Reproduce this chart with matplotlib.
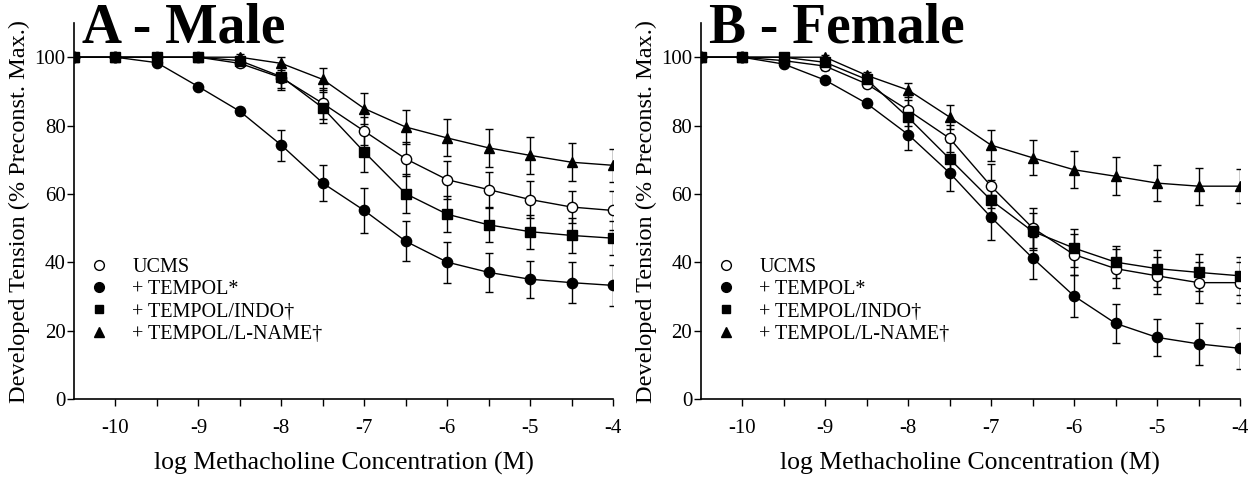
import matplotlib
matplotlib.use("Agg")
import matplotlib.pyplot as plt
from matplotlib.lines import Line2D

plt.rcParams['font.family'] = ['Liberation Serif', 'DejaVu Serif']
plt.rcParams['axes.unicode_minus'] = False

log_conc = [-10.5, -10, -9.5, -9, -8.5, -8, -7.5, -7, -6.5, -6, -5.5, -5, -4.5, -4]
x_ticks = [-10, -9, -8, -7, -6, -5, -4]
y_ticks = [0, 20, 40, 60, 80, 100]

series_labels = ["UCMS", "+ TEMPOL*", "+ TEMPOL/INDO\u2020", "+ TEMPOL/L-NAME\u2020"]

# Male
ucms_m = [100, 100, 100, 100, 98.2, 94, 86.5, 78.4, 70.3, 64.2, 61.3, 58.4, 56.2, 55.2]
ucms_m_err = [0, 0, 0, 0, 1, 3, 4.5, 4, 5, 5.6, 5.2, 5.4, 4.6, 5.6]
tempol_m = [100, 100, 98.4, 91.4, 84.2, 74.3, 63.2, 55.2, 46.2, 40.1, 37.1, 35.1, 34.1, 33.3]
tempol_m_err = [0, 0, 0.5, 0.7, 1, 4.5, 5.2, 6.5, 5.8, 6, 5.8, 5.4, 6, 6]
indo_m = [100, 100, 100, 100, 99, 94.3, 85.2, 72.3, 60.1, 54.1, 51, 49, 47.9, 47.1]
indo_m_err = [0, 0, 0, 0, 1, 3.8, 4.5, 5.8, 5.7, 5.2, 5, 5, 5, 5]
lname_m = [100, 100, 100, 100, 100, 98.2, 93.5, 85, 79.6, 76.4, 73.5, 71.3, 69.3, 68.4]
lname_m_err = [0, 0, 0, 0, 1, 2, 3.2, 4.5, 5, 5.4, 5.5, 5.3, 5.5, 4.9]

# Female
ucms_f = [100, 100, 99, 97.4, 92.2, 84.5, 76.3, 62.3, 50.1, 42.3, 38.2, 36.1, 34.1, 34.1]
ucms_f_err = [0, 0, 0.5, 1, 1, 4.5, 4, 6.5, 5.9, 6, 5.6, 5.4, 5.9, 5.9]
tempol_f = [100, 100, 98, 93.3, 86.5, 77.4, 66.2, 53.2, 41.3, 30.2, 22.2, 18.1, 16.2, 14.9]
tempol_f_err = [0, 0, 0.5, 0.7, 1, 4.4, 5.2, 6.5, 6, 6, 5.8, 5.5, 6.1, 6]
indo_f = [100, 100, 100, 98.5, 93.5, 82.4, 70.3, 58.2, 49.1, 44.2, 40.1, 38.2, 37.1, 36.1]
indo_f_err = [0, 0, 0.5, 1, 1, 5, 5, 6, 5.5, 5.5, 4.7, 5.4, 5.5, 5.5]
lname_f = [100, 100, 100, 100, 94.7, 90.4, 82.5, 74.3, 70.6, 67.1, 65.2, 63.2, 62.3, 62.3]
lname_f_err = [0, 0, 0, 0.5, 1, 2, 3.4, 4.5, 5.1, 5.4, 5.6, 5.3, 5.4, 4.9]

panel_titles = ["A - Male", "B - Female"]
panels = [
    [(ucms_m, ucms_m_err), (tempol_m, tempol_m_err), (indo_m, indo_m_err), (lname_m, lname_m_err)],
    [(ucms_f, ucms_f_err), (tempol_f, tempol_f_err), (indo_f, indo_f_err), (lname_f, lname_f_err)],
]

styles = [
    dict(marker='o', mfc='white', ms=7.4),
    dict(marker='o', mfc='black', ms=7.4),
    dict(marker='s', mfc='black', ms=6.8),
    dict(marker='^', mfc='black', ms=7.6),
]

W, H = 1259, 479
fig = plt.figure(figsize=(W / 100, H / 100), dpi=100)
axes_px = [(74, 613), (700.7, 1240)]
bottom_px, top_px = 399.3, 23

for i, (l, r) in enumerate(axes_px):
    ax = fig.add_axes([l / W, 1 - bottom_px / H, (r - l) / W, (bottom_px - top_px) / H])
    for (vals, errs), st, lab in zip(panels[i], styles, series_labels):
        ax.errorbar(log_conc, vals, yerr=errs, color='black', lw=1.0,
                    marker=st['marker'], ms=st['ms'], mfc=st['mfc'], mec='black', mew=1.0,
                    elinewidth=1.0, capsize=3.2, capthick=1.0, label=lab, zorder=3)
    ax.set_xlim(-10.5, -4)
    ax.set_ylim(0, 110)
    ax.set_xticks(x_ticks)
    ax.set_xticks([-9.5, -8.5, -7.5, -6.5, -5.5, -4.5], minor=True)
    ax.set_yticks(y_ticks)
    ax.tick_params(axis='both', which='both', direction='out', length=5, width=1.0,
                   labelsize=15, colors='black')
    ax.tick_params(axis='y', pad=1)
    ax.tick_params(axis='x', pad=9)
    for s in ['top', 'right']:
        ax.spines[s].set_visible(False)
    for s in ['left', 'bottom']:
        ax.spines[s].set_linewidth(1.2)
    ax.set_xlabel("log Methacholine Concentration (M)", fontsize=18.5, labelpad=10)
    ax.set_ylabel("Developed Tension (% Preconst. Max.)", fontsize=17.5, labelpad=3)
    ax.text(0.015, 0.9495, panel_titles[i], transform=ax.transAxes, fontsize=40,
            fontweight='bold', ha='left', va='baseline')
    handles = [Line2D([], [], linestyle='none', marker=st['marker'], ms=st['ms'] * 0.95,
                      mfc=st['mfc'], mec='black', mew=1.0) for st in styles]
    ax.legend(handles, series_labels, loc='upper left', bbox_to_anchor=(0.028, 0.375),
              frameon=False, fontsize=14.5, handlelength=1.0, handletextpad=1.15,
              borderpad=0, borderaxespad=0, labelspacing=0.15)

fig.savefig("out.png", dpi=100)
